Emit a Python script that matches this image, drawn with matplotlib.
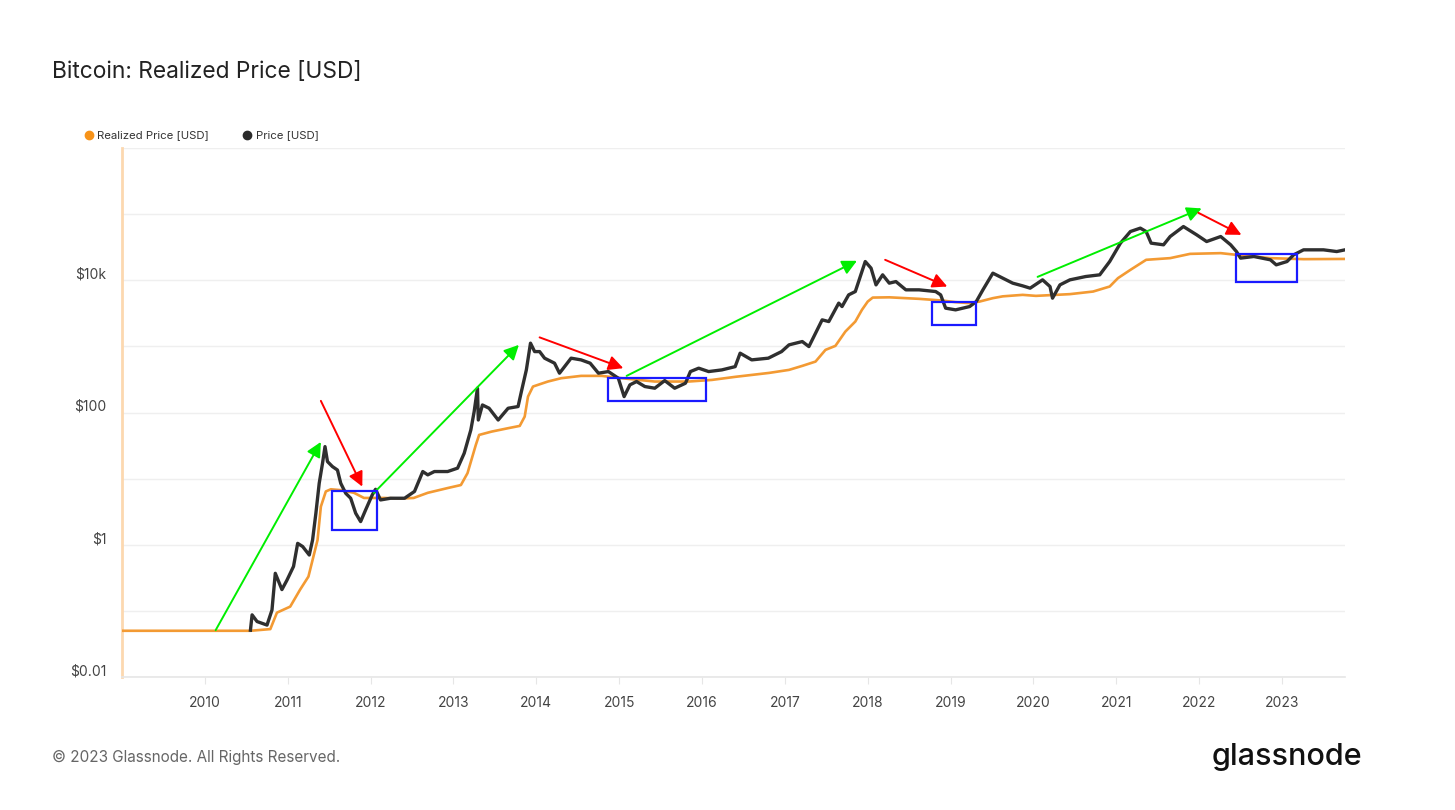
import matplotlib
matplotlib.use('Agg')
import matplotlib.pyplot as plt
from matplotlib.lines import Line2D
from matplotlib.patches import Rectangle, FancyArrowPatch
from matplotlib.transforms import ScaledTranslation

plt.rcParams['font.family'] = ['Inter', 'DejaVu Sans']

# realized price (decimal year, USD)
realized_t = [2009.00, 2010.55, 2010.79, 2010.87, 2011.03, 2011.15, 2011.25, 2011.36,
              2011.40, 2011.46, 2011.52, 2011.64, 2011.80, 2011.92, 2012.16, 2012.37,
              2012.52, 2012.69, 2012.93, 2013.09, 2013.17, 2013.27, 2013.31, 2013.46,
              2013.66, 2013.80, 2013.86, 2013.90, 2013.96, 2014.14, 2014.30, 2014.54,
              2014.79, 2015.03, 2015.43, 2015.84, 2016.12, 2016.40, 2016.81, 2017.05,
              2017.21, 2017.37, 2017.49, 2017.61, 2017.73, 2017.85, 2017.93, 2018.00,
              2018.06, 2018.26, 2018.62, 2018.90, 2019.06, 2019.23, 2019.35, 2019.51,
              2019.63, 2019.87, 2020.03, 2020.44, 2020.72, 2020.92, 2021.02, 2021.17,
              2021.36, 2021.65, 2021.89, 2022.26, 2022.45, 2022.86, 2023.26, 2023.76]
realized_usd = [0.05, 0.05, 0.053, 0.094, 0.116, 0.21, 0.33, 1.18,
                3.77, 6.4, 6.9, 6.7, 6.1, 5.1, 5.1, 5.0,
                5.1, 6.1, 7.2, 8.0, 12.1, 32.3, 45.8, 51.4,
                57.9, 62.7, 86.7, 174, 247, 294, 330, 358,
                358, 330, 294, 294, 311, 346, 397, 441,
                507, 589, 885, 1018, 1675, 2373, 3566, 4762,
                5470, 5520, 5233, 4933, 4665, 4508, 4762, 5360,
                5710, 6013, 5805, 6165, 6749, 8035, 10765, 14355,
                20370, 21600, 25060, 25700, 24220, 21600, 20840, 21000]

# market price (decimal year, USD)
price_t = [2010.55, 2010.57, 2010.63, 2010.75, 2010.81, 2010.85, 2010.89, 2010.93,
           2010.99, 2011.07, 2011.12, 2011.18, 2011.26, 2011.30, 2011.34, 2011.38,
           2011.42, 2011.45, 2011.48, 2011.54, 2011.60, 2011.64, 2011.70, 2011.76,
           2011.82, 2011.88, 2011.94, 2012.02, 2012.06, 2012.12, 2012.24, 2012.41,
           2012.53, 2012.63, 2012.69, 2012.77, 2012.93, 2013.05, 2013.13, 2013.21,
           2013.25, 2013.29, 2013.30, 2013.35, 2013.43, 2013.54, 2013.66, 2013.78,
           2013.82, 2013.88, 2013.93, 2013.98, 2014.04, 2014.10, 2014.22, 2014.28,
           2014.42, 2014.54, 2014.65, 2014.75, 2014.87, 2014.99, 2015.06, 2015.13,
           2015.21, 2015.31, 2015.43, 2015.55, 2015.67, 2015.80, 2015.86, 2015.96,
           2016.08, 2016.24, 2016.40, 2016.46, 2016.60, 2016.80, 2016.96, 2017.05,
           2017.21, 2017.29, 2017.45, 2017.53, 2017.65, 2017.69, 2017.77, 2017.85,
           2017.91, 2017.97, 2018.04, 2018.10, 2018.18, 2018.26, 2018.34, 2018.46,
           2018.62, 2018.82, 2018.88, 2018.94, 2019.06, 2019.23, 2019.31, 2019.39,
           2019.51, 2019.63, 2019.75, 2019.87, 2019.96, 2020.11, 2020.20, 2020.23,
           2020.32, 2020.44, 2020.63, 2020.80, 2020.92, 2021.05, 2021.17, 2021.29,
           2021.36, 2021.42, 2021.57, 2021.65, 2021.81, 2021.97, 2022.09, 2022.26,
           2022.38, 2022.45, 2022.50, 2022.66, 2022.86, 2022.93, 2023.06, 2023.14,
           2023.26, 2023.50, 2023.66, 2023.76]
price_usd = [0.051, 0.087, 0.069, 0.061, 0.103, 0.37, 0.28, 0.21,
             0.29, 0.47, 1.05, 0.94, 0.70, 1.18, 3.0, 8.5,
             17.1, 30.5, 18.1, 15.2, 13.5, 8.5, 6.0, 5.05,
             3.0, 2.24, 3.36, 5.67, 6.9, 4.76, 5.05, 5.05,
             6.4, 12.8, 11.4, 12.8, 12.8, 14.4, 24.2, 54.5,
             103, 233, 77, 130, 116, 77, 116, 123,
             207, 441, 1118, 834, 834, 663, 557, 393,
             663, 625, 557, 393, 416, 330, 174, 262,
             294, 247, 233, 304, 233, 277, 416, 468,
             416, 441, 494, 789, 625, 663, 834, 1054,
             1183, 993, 2518, 2373, 4508, 4002, 6013, 6749,
             11380, 19190, 15240, 8517, 12080, 9036, 9550, 7160,
             7160, 6749, 6013, 3785, 3566, 4002, 4762, 7160,
             12800, 10765, 9036, 8225, 7590, 10140, 8035, 5360,
             8517, 10140, 11380, 12080, 19190, 36400, 54550, 61400,
             54550, 36400, 34350, 45840, 64900, 48600, 38500, 45840,
             34350, 27170, 21600, 22860, 20370, 17100, 19190, 24220,
             28840, 28840, 27170, 28840]

# annotations drawn on top of the chart: ((year, usd) tail, (year, usd) head)
green_arrows = [((2010.13, 0.051), (2011.40, 35.9)),
                ((2012.04, 6.08), (2013.79, 1054)),
                ((2015.09, 358), (2017.87, 19680)),
                ((2020.05, 11250), (2022.03, 122000))]
red_arrows = [((2011.40, 150), (2011.90, 7.57)),
              ((2014.04, 1368), (2015.05, 468)),
              ((2018.21, 20370), (2018.96, 8035)),
              ((2021.99, 104700), (2022.51, 48600))]
# (year0, year1, usd_low, usd_high)
blue_boxes = [(2011.53, 2012.08, 1.67, 6.52),
              (2014.86, 2016.05, 150, 334),
              (2018.77, 2019.31, 2115, 4710),
              (2022.44, 2023.18, 9460, 25060)]

year_ticks = list(range(2010, 2024))
decades = [10.0 ** k for k in range(-2, 7)]
decade_labels = ['$0.01', '', '$1', '', '$100', '', '$10k', '', '']

fig = plt.figure(figsize=(14.55, 8.1), dpi=100)
ax = fig.add_axes([122 / 1455, 1 - 677 / 810, 1223 / 1455, 529 / 810])

ax.plot(realized_t, realized_usd, color='#f39a33', lw=1.9, zorder=3, solid_joinstyle='round')
ax.plot(price_t, price_usd, color='#2f2f2f', lw=2.4, zorder=4, solid_joinstyle='round')

ax.set_yscale('log')
ax.set_ylim(0.01, 1e6)
ax.set_xlim(2009.0, 2023.76)

ax.set_yticks(decades)
ax.set_yticklabels(decade_labels)
ax.yaxis.set_minor_locator(plt.NullLocator())
ax.set_xticks(year_ticks)
ax.set_xticklabels([str(y) for y in year_ticks])

ax.grid(axis='y', color='#efefef', lw=1.0)
ax.set_axisbelow(True)
ax.tick_params(axis='y', length=0, pad=11, labelsize=10, labelcolor='#444444')
ax.tick_params(axis='x', length=5, color='#e6e6e6', pad=9, labelsize=10, labelcolor='#444444')
shift = ScaledTranslation(0, 7 / 100, fig.dpi_scale_trans)
for lab in ax.get_yticklabels():
    lab.set_transform(lab.get_transform() + shift)

for side in ['top', 'right']:
    ax.spines[side].set_visible(False)
ax.spines['left'].set_color('#fcd8b0')
ax.spines['left'].set_linewidth(2)
ax.spines['bottom'].set_color('#e6e6e6')
ax.spines['bottom'].set_linewidth(1.2)

for (t0, v0), (t1, v1) in green_arrows:
    ax.add_patch(FancyArrowPatch((t0, v0), (t1, v1), arrowstyle='-|>', mutation_scale=22,
                                 color='#00ee00', lw=1.4, zorder=6, shrinkA=0, shrinkB=0))
for (t0, v0), (t1, v1) in red_arrows:
    ax.add_patch(FancyArrowPatch((t0, v0), (t1, v1), arrowstyle='-|>', mutation_scale=22,
                                 color='#ff0000', lw=1.4, zorder=6, shrinkA=0, shrinkB=0))
for t0, t1, lo, hi in blue_boxes:
    ax.add_patch(Rectangle((t0, lo), t1 - t0, hi - lo, fill=False,
                           edgecolor='#1a1aff', lw=1.6, zorder=7))

fig.text(52 / 1455, 1 - 72 / 810, 'Bitcoin: Realized Price [USD]', fontsize=16.4,
         color='#222222', va='center', ha='left')

# legend
fig.add_artist(Line2D([89 / 1455], [1 - 135 / 810], marker='o', color='#f7931a',
                      markersize=6, lw=0, transform=fig.transFigure))
fig.text(97 / 1455, 1 - 135 / 810, 'Realized Price [USD]', fontsize=8.2,
         color='#333333', va='center', ha='left')
fig.add_artist(Line2D([247 / 1455], [1 - 135 / 810], marker='o', color='#2b2b2b',
                      markersize=6, lw=0, transform=fig.transFigure))
fig.text(256 / 1455, 1 - 135 / 810, 'Price [USD]', fontsize=8.2,
         color='#333333', va='center', ha='left')

fig.text(52 / 1455, 1 - 757 / 810, '\u00a9 2023 Glassnode. All Rights Reserved.',
         fontsize=11, color='#666666', va='center', ha='left')
fig.text(1362 / 1455, 1 - 757 / 810, 'glassnode', fontsize=22, color='#111111',
         va='center', ha='right', fontweight='medium')

fig.savefig('out.png', dpi=100, facecolor='white')
